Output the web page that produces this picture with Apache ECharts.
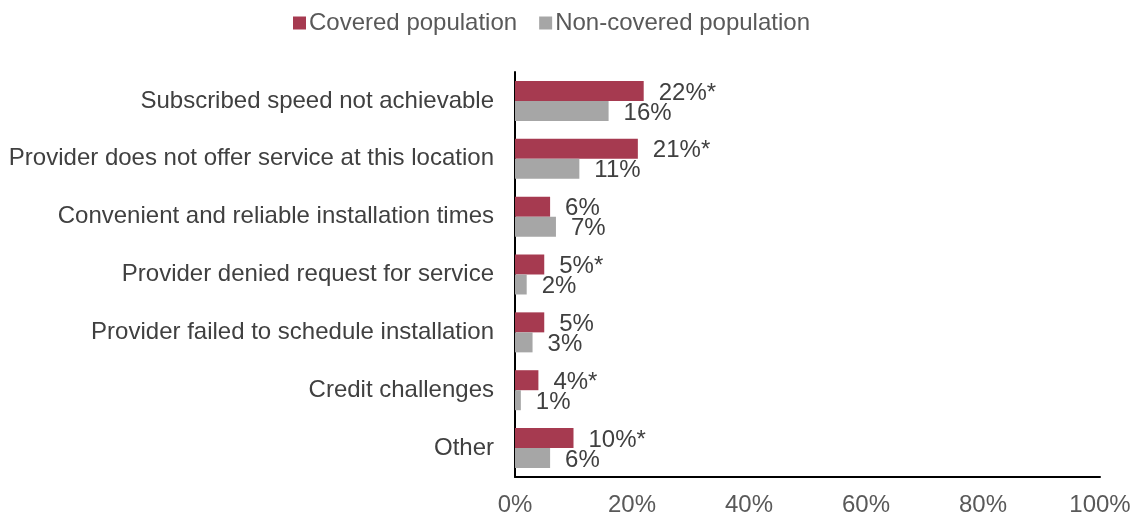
<!DOCTYPE html>
<html>
<head>
<meta charset="utf-8">
<script src="https://cdn.jsdelivr.net/npm/echarts@6/dist/echarts.min.js"></script>
<style>
  html, body { margin: 0; padding: 0; background: #fff; }
  #chart { width: 1133px; height: 516px; }
</style>
</head>
<body>
<div id="chart"></div>
<script>
// Reasons reported, listed top to bottom
const categories = [
  'Subscribed speed not achievable',
  'Provider does not offer service at this location',
  'Convenient and reliable installation times',
  'Provider denied request for service',
  'Provider failed to schedule installation',
  'Credit challenges',
  'Other'
];
const coveredValues = [22, 21, 6, 5, 5, 4, 10];
const coveredMarks = ['*', '*', '', '*', '', '*', '*'];
const nonCoveredValues = [16, 11, 7, 2, 3, 1, 6];
const tickValues = [0, 20, 40, 60, 80, 100];

const FONT = '"Liberation Sans", Arial, sans-serif';

const chart = echarts.init(document.getElementById('chart'), null, { renderer: 'canvas' });

function labelStyle(marks) {
  return {
    show: true,
    position: 'right',
    distance: 15,
    offset: [0, 2],
    color: '#404040',
    fontFamily: FONT,
    fontSize: 24,
    formatter: p => p.value + '%' + (marks ? marks[p.dataIndex] : '')
  };
}

chart.setOption({
  animation: false,
  legend: {
    top: 6,
    left: 288,
    itemWidth: 13,
    itemHeight: 13,
    itemGap: 22,
    icon: 'rect',
    textStyle: { color: '#595959', fontFamily: FONT, fontSize: 24, padding: [0, 0, 0, -2] },
    data: ['Covered population', 'Non-covered population']
  },
  grid: {
    left: 515, right: 33, top: 72, bottom: 39,
    containLabel: false,
    outerBoundsMode: 'none'
  },
  xAxis: {
    type: 'value',
    min: tickValues[0],
    max: tickValues[tickValues.length - 1],
    interval: 20,
    axisLine: { show: true, lineStyle: { color: '#000', width: 2 } },
    axisTick: { show: false },
    splitLine: { show: false },
    axisLabel: {
      color: '#595959', fontFamily: FONT, fontSize: 24, margin: 16,
      formatter: v => v + '%'
    }
  },
  yAxis: {
    type: 'category',
    inverse: true,
    data: categories,
    axisLine: { show: true, lineStyle: { color: '#000', width: 2 } },
    axisTick: { show: false },
    axisLabel: { color: '#404040', fontFamily: FONT, fontSize: 24, margin: 21, padding: [3, 0, 0, 0] }
  },
  series: [
    {
      name: 'Covered population',
      type: 'bar',
      data: coveredValues,
      barWidth: 20,
      barGap: '0%',
      itemStyle: { color: '#A63A50' },
      label: labelStyle(coveredMarks)
    },
    {
      name: 'Non-covered population',
      type: 'bar',
      data: nonCoveredValues,
      barWidth: 20,
      barGap: '0%',
      itemStyle: { color: '#A6A6A6' },
      label: labelStyle(null)
    }
  ]
});
</script>
</body>
</html>
